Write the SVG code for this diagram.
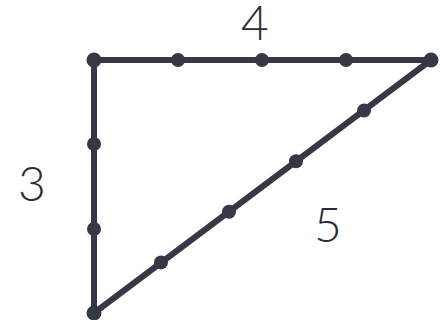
<svg xmlns="http://www.w3.org/2000/svg" width="440" height="320" viewBox="0 0 440 320">
<style>
.edge{stroke:#363846;stroke-width:6;stroke-linecap:round;fill:none}
.dot{fill:#363846}
.lbl{font-family:Lato,"Liberation Sans",sans-serif;font-weight:300;font-size:48px;fill:#2b2b36;text-anchor:middle}
</style>
<rect width="440" height="320" fill="#ffffff"/>
<g id="connectors">
<line class="edge" x1="94" y1="60" x2="431" y2="60"/>
<line class="edge" x1="94" y1="60" x2="94" y2="313"/>
<line class="edge" x1="431" y1="60" x2="94" y2="313"/>
</g>
<g id="vertices">
<circle class="dot" cx="94" cy="60" r="7.5"/>
<circle class="dot" cx="431" cy="60" r="7.5"/>
<circle class="dot" cx="94" cy="313" r="7.5"/>
</g>
<g id="top-edge-dots">
<circle class="dot" cx="178" cy="60" r="7"/>
<circle class="dot" cx="262" cy="60" r="7"/>
<circle class="dot" cx="346" cy="60" r="7"/>
</g>
<g id="left-edge-dots">
<circle class="dot" cx="94" cy="144" r="7"/>
<circle class="dot" cx="94" cy="229" r="7"/>
</g>
<g id="hyp-dots">
<circle class="dot" cx="364" cy="110.6" r="7"/>
<circle class="dot" cx="296" cy="161.2" r="7"/>
<circle class="dot" cx="229" cy="211.8" r="7"/>
<circle class="dot" cx="161" cy="262.4" r="7"/>
</g>
<g id="labels">
<text class="lbl" x="255" y="40">4</text>
<text class="lbl" x="32" y="201">3</text>
<text class="lbl" x="328" y="242">5</text>
</g>
</svg>
